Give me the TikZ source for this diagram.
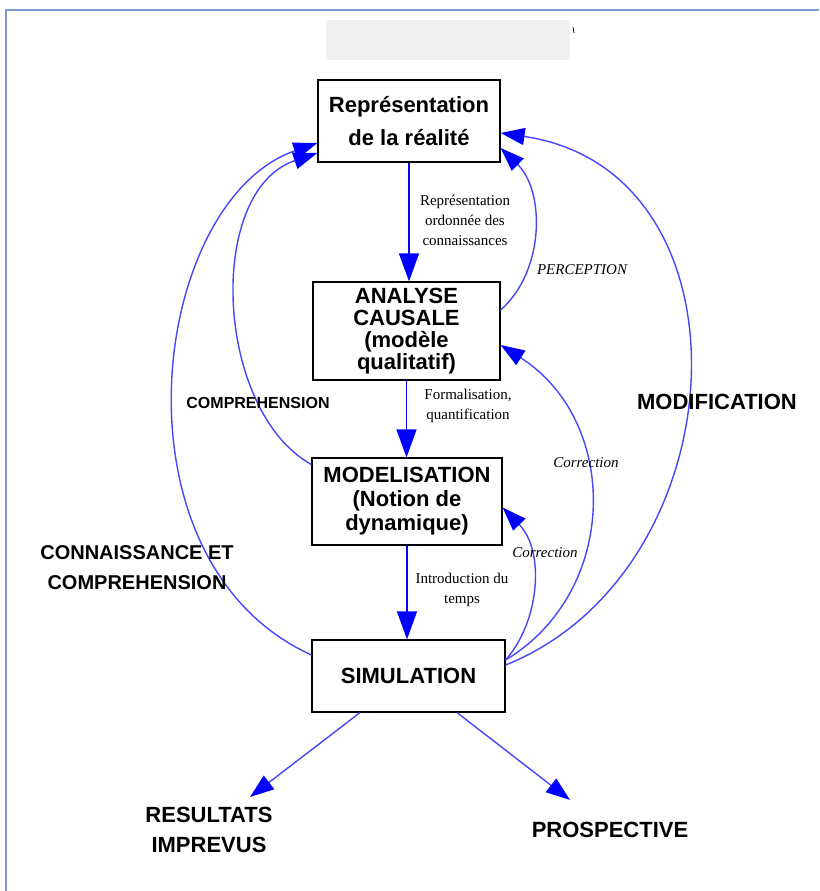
\documentclass[tikz,border=0pt]{standalone}
\usepackage{fontspec}
\setmainfont{Liberation Serif}
\setsansfont{Liberation Sans}
\usetikzlibrary{arrows.meta}
\definecolor{LBlue}{RGB}{70,70,250}
\definecolor{TBlue}{RGB}{0,0,255}
\definecolor{Frame}{RGB}{120,155,215}
\definecolor{LGrey}{RGB}{240,240,240}

\begin{document}
\begin{tikzpicture}[x=1pt, y=1pt,
    box/.style={draw, line width=1.2pt, inner sep=0pt, align=center,
        font=\sffamily\bfseries\fontsize{22}{26}\selectfont},
    flow/.style={LBlue, line width=1.4pt,
        -{Triangle[length=24pt, width=17pt, color=TBlue]}},
    down/.style={TBlue, line width=1.3pt,
        -{Triangle[length=28pt, width=20pt, color=TBlue]}},
    note/.style={align=center, font=\fontsize{15}{20}\selectfont},
    remark/.style={font=\itshape\fontsize{15}{18}\selectfont},
    tag/.style={align=center, font=\sffamily\bfseries\fontsize{20}{30}\selectfont}]

    \useasboundingbox (0,0) rectangle (819,891);

    % frame and title band
    \draw[Frame, line width=2.5pt] (6,0) -- (6,881) -- (819,881);
    \fill[LGrey] (326,831) rectangle (570,871);
    \draw[line width=0.8pt] (573,864) -- (574,858);

    % Boxes
    \node[box, minimum width=182pt, minimum height=82pt,
        font=\sffamily\bfseries\fontsize{22}{33}\selectfont] (rep) at (409,770)
        {Représentation\\de la réalité};
    \node[box, minimum width=187pt, minimum height=98pt,
        font=\sffamily\bfseries\fontsize{22}{22}\selectfont] (ana) at (406.5,560)
        {ANALYSE\\CAUSALE\\(modèle\\qualitatif)};
    \node[box, minimum width=190pt, minimum height=87pt,
        font=\sffamily\bfseries\fontsize{22}{24}\selectfont] (mod) at (407,389.5)
        {MODELISATION\\(Notion de\\dynamique)};
    \node[box, minimum width=193pt, minimum height=72pt] (sim) at (408.5,215)
        {SIMULATION};

    % Outcomes
    \node[tag, font=\sffamily\bfseries\fontsize{22}{30}\selectfont] (res) at (209,61) {RESULTATS\\IMPREVUS};
    \node[tag, font=\sffamily\bfseries\fontsize{22}{30}\selectfont] (pro) at (610,61) {PROSPECTIVE};
    \coordinate (resTip) at (250,94);
    \coordinate (proTip) at (570,91);

    % Main chain
    \draw[down] (rep.south) -- (rep.south |- ana.north);
    \draw[down] (ana.south) -- (ana.south |- mod.north);
    \draw[down] (mod.south) -- (mod.south |- sim.north);
    \node[note] (n1) at (465,671) {Représentation\\ordonnée des\\connaissances};
    \node[note] (n2) at (468,485) {Formalisation,\\quantification};
    \node[note] (n3) at (462,301) {Introduction du\\temps};

    % Feedback loops, right
    \draw[flow] ([yshift=21pt]ana.east) .. controls (545,620) and (545,700) .. ([yshift=-27pt]rep.east);
    \draw[flow] ([yshift=16pt]sim.east) .. controls (620,300) and (620,470) .. ([yshift=-14pt]ana.east);
    \draw[flow] ([yshift=16pt]sim.east) .. controls (540,270) and (545,340) .. ([yshift=-6pt]mod.east);
    \draw[flow] ([yshift=11pt]sim.east) .. controls (740,320) and (760,720) .. ([yshift=-12pt]rep.east);
    \node[remark] (l1) at (582,621) {PERCEPTION};
    \node[remark] (l2) at (586,428) {Correction};
    \node[remark] (l3) at (545,338) {Correction};
    \node[tag, font=\sffamily\bfseries\fontsize{22}{26}\selectfont] (l4) at (717,489) {MODIFICATION};

    % Feedback loops, left
    \draw[flow] ([yshift=37pt]mod.west) .. controls (215,480) and (205,700) .. ([yshift=-32pt]rep.west);
    \draw[flow] ([yshift=21pt]sim.west) .. controls (105,330) and (150,690) .. ([yshift=-22pt]rep.west);
    \node[tag, font=\sffamily\bfseries\fontsize{16}{20}\selectfont] (l5) at (258,488) {COMPREHENSION};
    \node[tag] (l6) at (137,323) {CONNAISSANCE ET\\COMPREHENSION};

    % Results
    \draw[flow] ([xshift=-48.5pt]sim.south) -- (resTip);
    \draw[flow] ([xshift=48.5pt]sim.south) -- (proTip);

\end{tikzpicture}
\end{document}
